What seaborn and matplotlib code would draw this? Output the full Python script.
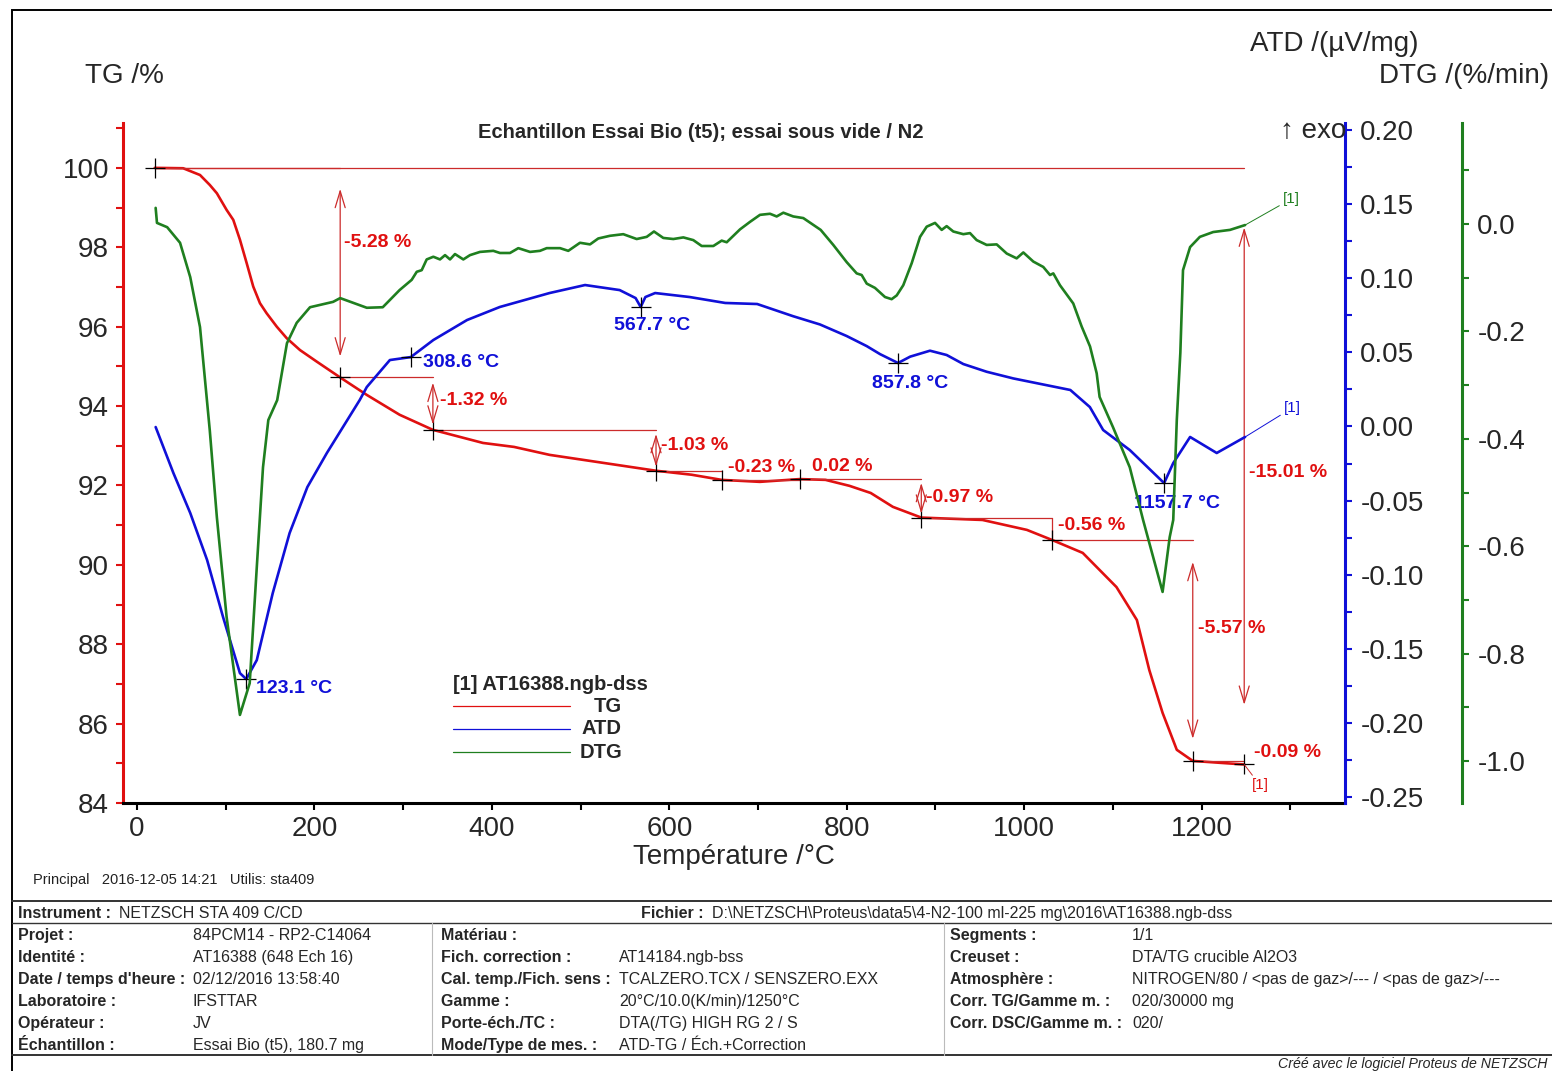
import matplotlib
matplotlib.use("Agg")
import matplotlib.pyplot as plt
import seaborn as sns
from matplotlib.lines import Line2D
from matplotlib.patches import Rectangle
from matplotlib.ticker import MultipleLocator, FuncFormatter

# ── DATA ──────────────────────────────────────────────────────────
tg_temp = [20, 52, 71, 82, 90, 101, 108.5, 116, 123.6, 131, 138.6, 146, 157.5, 168.7, 183.7, 202.5,
           229, 259, 296, 333.5, 390, 425, 465, 525, 585, 625,
           659, 702, 747, 776, 803, 827, 852, 884, 953, 1003,
           1031, 1066, 1104, 1127, 1141, 1156, 1172, 1190, 1248]
tg_val = [100.0, 99.99, 99.82, 99.57, 99.36, 98.94, 98.69, 98.19, 97.60, 97.01, 96.59, 96.34, 96.00, 95.71, 95.41, 95.12,
          94.72, 94.28, 93.78, 93.40, 93.07, 92.97, 92.77, 92.57, 92.37, 92.27,
          92.14, 92.09, 92.16, 92.14, 91.99, 91.81, 91.46, 91.19, 91.13, 90.88,
          90.63, 90.30, 89.44, 88.61, 87.35, 86.27, 85.34, 85.06, 84.97]

atd_temp = [21, 41, 60, 79, 97, 116, 123.1, 135, 153, 172,
            192, 214, 251, 259, 285, 308.6, 334, 372, 409, 465,
            505, 544, 562, 567.7, 573, 584, 623, 663, 699, 739.4,
            769.8, 799.9, 822.5, 837.5, 857.8, 871.5, 893.8, 912.6, 931.4, 957.7,
            987.7, 1052, 1074, 1089, 1119, 1157.7, 1168, 1187, 1217, 1249]
atd_val = [-0.0004, -0.0314, -0.0584, -0.0901, -0.1286, -0.1664, -0.1704, -0.1576, -0.1124, -0.0719,
           -0.0409, -0.0179, 0.0178, 0.0266, 0.0448, 0.0468, 0.0583, 0.0718, 0.0806, 0.0900,
           0.0954, 0.0920, 0.0866, 0.0806, 0.0873, 0.0900, 0.0873, 0.0833, 0.0826, 0.0744,
           0.0688, 0.0610, 0.0542, 0.0488, 0.0428, 0.0471, 0.0511, 0.0482, 0.0421, 0.0369,
           0.0324, 0.0246, 0.0131, -0.0024, -0.0159, -0.0382, -0.0247, -0.0071, -0.0179, -0.0071]

dtg_temp = [21, 22.5, 34, 48.5, 60, 71, 82, 90, 101, 116,
            127, 135, 142, 148, 158, 169, 180, 195, 221, 229,
            259, 277, 296, 309.6, 315.3, 320.9, 326.5, 334, 341.5, 347.2,
            352.8, 358.4, 367.8, 375.3, 386.6, 401.6, 409.1, 420.4, 429.8, 443,
            454.2, 461.8, 476.8, 486.1, 499.3, 510.6, 519.9, 533.1, 548.1, 563.2,
            574.5, 582.7, 593.2, 604.5, 615.8, 627, 636.5, 649.6, 659, 664.7,
            679.7, 691, 702.2, 713.5, 721, 728.5, 739.7, 751, 770.6, 784.8,
            799.9, 811.2, 816.8, 822.5, 831.8, 843.1, 850.6, 856.3, 863.7, 873.2,
            882.6, 890.1, 899.5, 907, 912.6, 920.1, 931.4, 938.9, 946.4, 957.7,
            969, 980.3, 991.5, 999, 1010.3, 1021.5, 1029.1, 1032.8, 1040.3, 1055.3,
            1064.8, 1074.2, 1081.7, 1085, 1100, 1119, 1134, 1156, 1164, 1168,
            1172, 1176, 1179, 1187, 1198, 1213, 1232, 1249]
dtg_val = [0.030, 0.002, -0.006, -0.035, -0.099, -0.192, -0.384, -0.546, -0.732, -0.914,
           -0.855, -0.639, -0.453, -0.365, -0.328, -0.222, -0.184, -0.155, -0.145, -0.138,
           -0.156, -0.155, -0.123, -0.104, -0.089, -0.086, -0.066, -0.061, -0.066, -0.058,
           -0.066, -0.056, -0.066, -0.058, -0.052, -0.050, -0.054, -0.054, -0.045, -0.052,
           -0.050, -0.045, -0.045, -0.050, -0.035, -0.038, -0.027, -0.022, -0.019, -0.028,
           -0.024, -0.014, -0.026, -0.028, -0.025, -0.030, -0.041, -0.041, -0.031, -0.034,
           -0.010, 0.004, 0.017, 0.019, 0.014, 0.021, 0.014, 0.011, -0.011, -0.039,
           -0.071, -0.092, -0.095, -0.111, -0.119, -0.136, -0.140, -0.133, -0.114, -0.073,
           -0.024, -0.005, 0.002, -0.011, -0.004, -0.014, -0.019, -0.017, -0.030, -0.039,
           -0.038, -0.055, -0.064, -0.053, -0.070, -0.080, -0.095, -0.092, -0.114, -0.148,
           -0.191, -0.228, -0.278, -0.322, -0.378, -0.453, -0.551, -0.685, -0.583, -0.551,
           -0.365, -0.240, -0.086, -0.043, -0.024, -0.015, -0.011, -0.002]

# mass-loss steps evaluated on the TG curve
step_temp = [20, 229, 333.5, 585, 659, 747, 884, 1031, 1190, 1248]
step_level = [100.0, 94.72, 93.40, 92.37, 92.14, 92.16, 91.19, 90.63, 85.06, 84.97]
step_label = ["-5.28 %", "-1.32 %", "-1.03 %", "-0.23 %", "0.02 %",
              "-0.97 %", "-0.56 %", "-5.57 %", "-0.09 %"]
total_label = "-15.01 %"

# ATD peaks
peak_temp = [123.1, 308.6, 567.7, 857.8, 1157.7]
peak_atd = [-0.1704, 0.0468, 0.0806, 0.0428, -0.0382]

# report table
col1_labels = ["Projet :", "Identité :", "Date / temps d'heure :", "Laboratoire :",
               "Opérateur :", "Échantillon :"]
col1_values = ["84PCM14 - RP2-C14064", "AT16388 (648 Ech 16)", "02/12/2016 13:58:40",
               "IFSTTAR", "JV", "Essai Bio (t5), 180.7 mg"]
col2_labels = ["Matériau :", "Fich. correction :", "Cal. temp./Fich. sens :", "Gamme :",
               "Porte-éch./TC :", "Mode/Type de mes. :"]
col2_values = ["", "AT14184.ngb-bss", "TCALZERO.TCX / SENSZERO.EXX",
               "20°C/10.0(K/min)/1250°C", "DTA(/TG) HIGH RG 2 / S", "ATD-TG / Éch.+Correction"]
col3_labels = ["Segments :", "Creuset :", "Atmosphère :", "Corr. TG/Gamme m. :",
               "Corr. DSC/Gamme m. :"]
col3_values = ["1/1", "DTA/TG crucible Al2O3",
               "NITROGEN/80 / <pas de gaz>/--- / <pas de gaz>/---", "020/30000 mg", "020/"]

# ── STYLE ──────────────────────────────────────────────────────────
sns.set_theme(style="white")
plt.rcParams["font.family"] = ["Liberation Sans", "DejaVu Sans"]

RED = "#e01010"
BLUE = "#1010d8"
GREEN = "#1f7f1f"
ANN = "#cc2b2b"
W, H = 1552, 1071
TABLE_FS = 11.5


def fx(px):
    return px / W


def fy(py):
    return 1 - py / H


fig = plt.figure(figsize=(W / 100, H / 100), dpi=100)
ax = fig.add_axes([fx(123), fy(803), (1345 - 123) / W, (803 - 123) / H])
ax2 = ax.twinx()
ax3 = ax.twinx()

# ── CURVES ─────────────────────────────────────────────────────────
sns.lineplot(x=tg_temp, y=tg_val, ax=ax, color=RED, lw=1.9, sort=False,
             estimator=None, legend=False)
sns.lineplot(x=atd_temp, y=atd_val, ax=ax2, color=BLUE, lw=1.9, sort=False,
             estimator=None, legend=False)
sns.lineplot(x=dtg_temp, y=dtg_val, ax=ax3, color=GREEN, lw=1.9, sort=False,
             estimator=None, legend=False)

ax.set_xlim(-15.8, 1361.6)
ax.set_ylim(84, 101.13)
ax2.set_ylim(-0.254, 0.2047)
ax3.set_ylim(-1.078, 0.188)

# ── AXES / SPINES ──────────────────────────────────────────────────
for s in ["top", "right"]:
    ax.spines[s].set_visible(False)
ax.spines["left"].set_color(RED)
ax.spines["left"].set_linewidth(2.2)
ax.spines["bottom"].set_color("black")
ax.spines["bottom"].set_linewidth(2.2)
for a, c in [(ax2, BLUE), (ax3, GREEN)]:
    for s in ["top", "left", "bottom"]:
        a.spines[s].set_visible(False)
    a.spines["right"].set_color(c)
    a.spines["right"].set_linewidth(2.2)
ax3.spines["right"].set_position(("axes", (1462 - 123) / (1345 - 123)))

ax.xaxis.set_major_locator(MultipleLocator(200))
ax.xaxis.set_minor_locator(MultipleLocator(100))
ax.yaxis.set_major_locator(MultipleLocator(2))
ax.yaxis.set_minor_locator(MultipleLocator(1))
ax2.yaxis.set_major_locator(MultipleLocator(0.05))
ax2.yaxis.set_minor_locator(MultipleLocator(0.025))
ax3.yaxis.set_major_locator(MultipleLocator(0.2))
ax3.yaxis.set_minor_locator(MultipleLocator(0.1))
ax2.yaxis.set_major_formatter(FuncFormatter(lambda v, p: f"{v + 0:.2f}".replace("-0.00", "0.00")))
ax3.yaxis.set_major_formatter(FuncFormatter(lambda v, p: f"{v + 0:.1f}".replace("-0.0", "0.0")))

ax.tick_params(axis="x", which="both", bottom=True, direction="out", length=5,
               width=1.5, color="black", labelsize=20, pad=4)
ax.tick_params(axis="y", which="both", left=True, direction="out", length=5,
               width=1.5, color=RED, labelsize=20, pad=5)
ax2.tick_params(axis="y", which="both", right=True, direction="out", length=5,
                width=1.5, color=BLUE, labelsize=20, pad=6)
ax3.tick_params(axis="y", which="both", right=True, direction="out", length=5,
                width=1.5, color=GREEN, labelsize=20, pad=6)
ax.set_xlabel("Température /°C", fontsize=20, labelpad=2)
ax.set_ylabel("")
ax2.set_ylabel("")
ax3.set_ylabel("")

# ── TG STEP ANNOTATIONS ────────────────────────────────────────────
arrow_kw = dict(arrowstyle="<->,head_length=1.0,head_width=0.3", color=ANN,
                lw=0.9, shrinkA=0, shrinkB=0)
label_offsets = [(4, 30), (7, 3), (5, 5), (6, 8), (12, 13), (5, 1), (6, 3), (5, 22), (10, 10)]

ax.plot([step_temp[0], step_temp[-1]], [step_level[0]] * 2, color=ANN, lw=0.9)
for i in range(1, len(step_temp)):
    x0, x1 = step_temp[i - 1], step_temp[i]
    y0, y1 = step_level[i - 1], step_level[i]
    ax.plot([x0, x1], [y0, y0], color=ANN, lw=0.9)
    dy = y1 - y0
    if abs(dy) >= 0.9:
        ax.annotate("", xy=(x1, y1 - 0.1 * dy), xytext=(x1, y0 + 0.1 * dy),
                    arrowprops=arrow_kw)
    elif abs(dy) >= 0.3:
        ax.plot([x1, x1], [y0, y1], color=ANN, lw=0.9)
    ox, oy = label_offsets[i - 1]
    ax.annotate(step_label[i - 1], xy=(x1, (y0 + y1) / 2), xytext=(ox, oy),
                textcoords="offset pixels", ha="left", va="center",
                color=RED, fontsize=14, fontweight="bold")

# total loss
t_end, y_top, y_bot = step_temp[-1], step_level[0], step_level[-1]
span = y_top - y_bot
ax.annotate("", xy=(t_end, y_bot + 0.1 * span), xytext=(t_end, y_top - 0.1 * span),
            arrowprops=arrow_kw)
ax.annotate(total_label, xy=(t_end, (y_top + y_bot) / 2), xytext=(5, -6),
            textcoords="offset pixels", ha="left", va="center",
            color=RED, fontsize=14, fontweight="bold")
ax.plot(step_temp, step_level, ls="none", marker="+", ms=15, mew=0.9, color="black")

# ── ATD PEAK LABELS ────────────────────────────────────────────────
peak_offsets = [(10, -9, "left"), (12, -5, "left"), (11, -19, "center"),
                (12, -20, "center"), (13, -20, "center")]
ax2.plot(peak_temp, peak_atd, ls="none", marker="+", ms=15, mew=0.9, color="black")
for t, v, (ox, oy, ha) in zip(peak_temp, peak_atd, peak_offsets):
    ax2.annotate(f"{t:.1f} °C", xy=(t, v), xytext=(ox, oy), textcoords="offset pixels",
                 ha=ha, va="center", color=BLUE, fontsize=14, fontweight="bold")

# "[1]" end tags
lead = dict(arrowstyle="-", lw=0.7, shrinkA=0, shrinkB=0)
ax3.annotate("[1]", xy=(dtg_temp[-1], dtg_val[-1]), xytext=(46, 26),
             textcoords="offset pixels", ha="center", va="center", color=GREEN,
             fontsize=11, arrowprops=dict(color=GREEN, **lead))
ax2.annotate("[1]", xy=(atd_temp[-1], atd_val[-1]), xytext=(47, 29),
             textcoords="offset pixels", ha="center", va="center", color=BLUE,
             fontsize=11, arrowprops=dict(color=BLUE, **lead))
ax.annotate("[1]", xy=(tg_temp[-1], tg_val[-1]), xytext=(16, -21),
            textcoords="offset pixels", ha="center", va="center", color=RED,
            fontsize=11, arrowprops=dict(color=ANN, **lead))

# ── TEXTS AROUND THE PLOT ──────────────────────────────────────────
fig.text(fx(478), fy(132), "Echantillon Essai Bio (t5); essai sous vide / N2",
         fontsize=14.5, fontweight="bold", ha="left", va="center")
fig.text(fx(85), fy(76), "TG /%", fontsize=20, ha="left", va="center")
fig.text(fx(1250), fy(44), "ATD /(µV/mg)", fontsize=20, ha="left", va="center")
fig.text(fx(1549), fy(76), "DTG /(%/min)", fontsize=20, ha="right", va="center")
fig.text(fx(1346), fy(131), "↑ exo", fontsize=20, ha="right", va="center",
         family=["Liberation Sans", "DejaVu Sans"])

# legend block
fig.text(fx(453), fy(684), "[1] AT16388.ngb-dss", fontsize=14.5, fontweight="bold",
         ha="left", va="center")
for yy, c, name in [(706, RED, "TG"), (729, BLUE, "ATD"), (752, GREEN, "DTG")]:
    fig.add_artist(Line2D([fx(453), fx(570)], [fy(yy), fy(yy)], color=c, lw=0.9,
                          transform=fig.transFigure))
    fig.text(fx(622), fy(yy), name, fontsize=14.5, fontweight="bold", ha="right", va="center")

fig.text(fx(33), fy(880), "Principal   2016-12-05 14:21   Utilis: sta409", fontsize=10.5,
         ha="left", va="center", color="#222222")

# ── REPORT TABLE ───────────────────────────────────────────────────
fig.add_artist(Rectangle((fx(12), -0.01), 1.0, fy(10) + 0.01, fill=False, lw=1.4,
                         edgecolor="black", transform=fig.transFigure))
for yy, lw in [(901, 1.4), (923, 1.0), (1055, 1.4)]:
    fig.add_artist(Line2D([fx(12), 1.0], [fy(yy), fy(yy)], color="#333333", lw=lw,
                          transform=fig.transFigure))
for xx in [432, 944]:
    fig.add_artist(Line2D([fx(xx), fx(xx)], [fy(923), fy(1055)], color="#bbbbbb", lw=0.8,
                          transform=fig.transFigure))

BASE = 6  # baseline sits a few pixels under the row centre
fig.text(fx(18), fy(912 + BASE), "Instrument :", fontsize=TABLE_FS, fontweight="bold",
         va="baseline")
fig.text(fx(119), fy(912 + BASE), "NETZSCH STA 409 C/CD", fontsize=TABLE_FS, va="baseline")
fig.text(fx(641), fy(912 + BASE), "Fichier :", fontsize=TABLE_FS, fontweight="bold",
         va="baseline")
fig.text(fx(712), fy(912 + BASE),
         r"D:\NETZSCH\Proteus\data5\4-N2-100 ml-225 mg\2016\AT16388.ngb-dss",
         fontsize=TABLE_FS, va="baseline")

row_y = [934, 956, 978, 1000, 1022, 1044]
for labels, values, xl, xv in [(col1_labels, col1_values, 18, 193),
                               (col2_labels, col2_values, 441, 619),
                               (col3_labels, col3_values, 950, 1132)]:
    for yy, lab, val in zip(row_y, labels, values):
        fig.text(fx(xl), fy(yy + BASE), lab, fontsize=TABLE_FS, fontweight="bold",
                 va="baseline")
        fig.text(fx(xv), fy(yy + BASE), val, fontsize=TABLE_FS, va="baseline")

fig.text(fx(1548), fy(1064), "Créé avec le logiciel Proteus de NETZSCH", fontsize=10.2,
         style="italic", ha="right", va="center")

fig.savefig("out.png", dpi=100)
